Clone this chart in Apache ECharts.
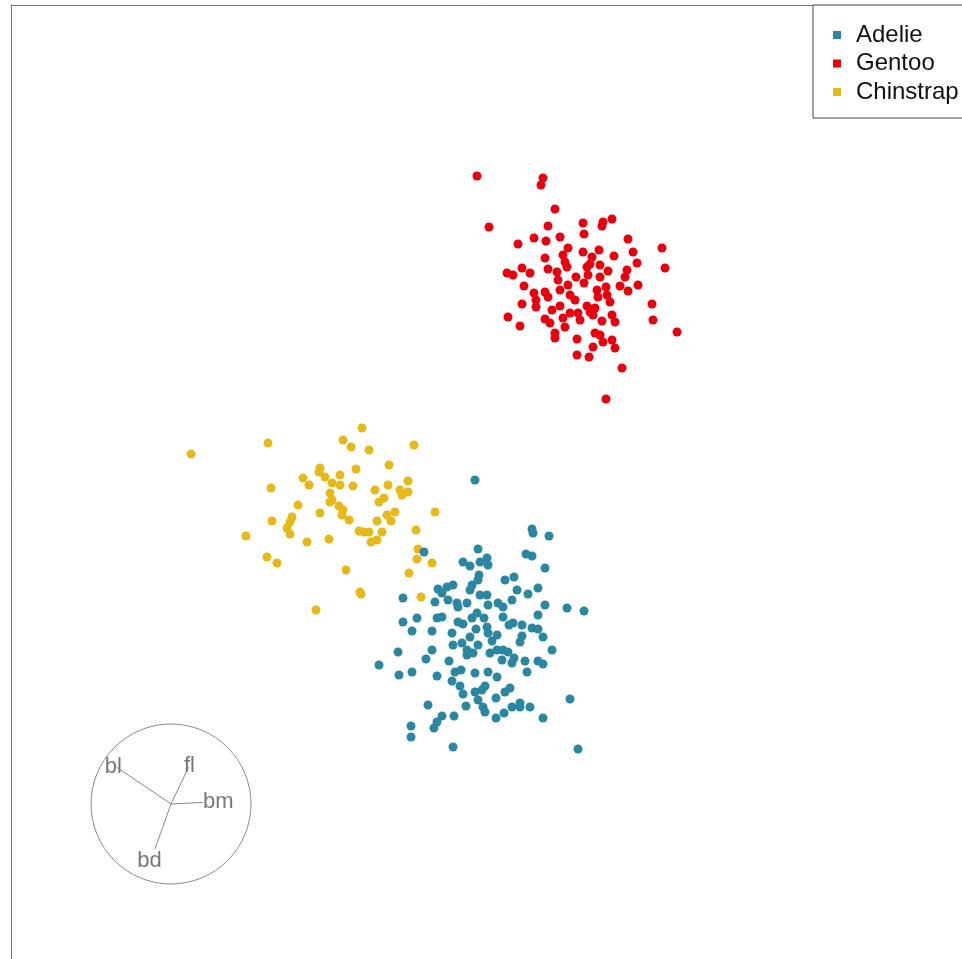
<!DOCTYPE html>
<html>
<head>
<meta charset="utf-8">
<script src="https://cdn.jsdelivr.net/npm/echarts@6/dist/echarts.min.js"></script>
<style>
  html, body { margin: 0; padding: 0; background: #fff; }
  #main { width: 962px; height: 959px; }
</style>
</head>
<body>
<div id="main"></div>
<script>
// projected positions (projection plane units, y down)
var adelie = [
  [475,480],[532,529],[533,533],[549,536],[424,552],[478,549],[526,554],[532,556],[545,568],
  [463,562],[470,566],[480,562],[487,558],[488,565],[479,575],[478,580],[505,580],[514,577],
  [472,585],[470,590],[438,589],[447,587],[453,585],[442,593],[403,598],[435,602],[457,603],
  [458,607],[467,603],[480,595],[487,595],[488,605],[498,603],[503,607],[512,600],[517,590],
  [528,594],[538,588],[545,605],[567,608],[584,611],[538,615],[503,617],[477,613],[472,618],
  [442,617],[437,618],[417,618],[403,622],[412,631],[432,631],[458,622],[463,624],[476,629],
  [487,627],[488,633],[497,635],[513,623],[522,625],[532,628],[538,629],[543,637],[522,636],
  [520,642],[452,633],[453,645],[462,643],[467,650],[473,653],[478,645],[497,650],[503,650],
  [508,652],[552,650],[398,652],[432,650],[426,659],[449,661],[467,655],[490,653],[502,660],
  [512,663],[514,658],[525,661],[538,661],[543,664],[379,665],[399,675],[412,672],[437,676],
  [455,672],[461,670],[475,673],[488,672],[497,677],[527,672],[452,681],[460,686],[475,692],
  [482,690],[485,686],[463,694],[505,692],[510,688],[496,698],[570,699],[428,705],[466,706],
  [478,700],[483,707],[485,712],[512,707],[520,703],[520,707],[530,707],[442,716],[437,722],
  [434,728],[454,716],[496,718],[504,713],[543,718],[411,726],[411,737],[453,747],[578,749],
  [484,618],[492,641],[470,637],[448,600],[509,625]
];
var gentoo = [
  [477,176],[543,178],[541,185],[555,209],[489,227],[548,226],[583,223],[603,222],[612,219],
  [602,226],[584,234],[518,244],[534,238],[546,241],[560,237],[628,239],[662,248],[665,268],
  [633,252],[637,263],[614,256],[599,250],[583,252],[592,257],[568,248],[563,255],[545,258],
  [565,262],[567,267],[507,273],[513,275],[522,268],[530,273],[548,269],[557,272],[558,280],
  [576,277],[587,267],[588,275],[600,265],[600,277],[608,271],[627,270],[625,277],[620,286],
  [628,291],[638,285],[524,286],[534,293],[536,300],[545,292],[548,297],[560,290],[568,285],
  [570,295],[597,290],[606,287],[607,295],[610,302],[598,297],[522,304],[536,307],[560,306],
  [587,306],[595,308],[570,313],[578,313],[590,312],[563,318],[580,320],[593,315],[508,317],
  [520,326],[545,319],[550,323],[565,327],[602,321],[612,315],[615,322],[652,304],[653,320],
  [677,332],[555,333],[555,338],[577,339],[595,333],[600,335],[603,342],[612,340],[615,348],
  [593,347],[577,355],[589,357],[622,368],[606,399],[575,300],[584,283],[552,310],[590,264]
];
var chinstrap = [
  [191,454],[268,443],[362,428],[343,440],[351,447],[369,450],[414,445],[389,465],[356,469],
  [320,468],[319,472],[325,477],[340,475],[303,478],[309,485],[332,483],[340,485],[353,486],
  [271,488],[375,490],[388,485],[400,490],[408,481],[408,492],[402,495],[384,498],[379,502],
  [330,493],[332,500],[330,502],[298,505],[339,506],[343,510],[342,515],[349,520],[320,513],
  [292,517],[290,522],[272,521],[287,528],[290,534],[377,521],[387,515],[395,512],[391,521],
  [435,512],[359,531],[364,532],[369,532],[382,532],[377,540],[371,542],[416,530],[329,539],
  [307,542],[246,536],[267,557],[277,563],[418,549],[417,559],[432,563],[409,573],[346,570],
  [360,592],[361,594],[421,597],[316,610]
];
var speciesNames = ['Adelie', 'Gentoo', 'Chinstrap'];
var speciesColors = ['#2b87a0', '#e8000f', '#e6b91a'];

// axis guide: projection coefficients of each variable and where its name sits
var axisNames = ['bl', 'fl', 'bm', 'bd'];
var axisVec = [[-0.68, 0.46], [0.22, 0.46], [0.40, 0.02], [-0.20, -0.56]];
var labelPos = [[-0.72, 0.46], [0.23, 0.47], [0.59, 0.02], [-0.27, -0.71]];

var chart = echarts.init(document.getElementById('main'));

var guideData = axisVec.map(function (v, i) {
    return [v[0], v[1], labelPos[i][0], labelPos[i][1]];
});

var frameLine = {show: true, onZero: false, lineStyle: {color: '#777', width: 1}};

var option = {
    backgroundColor: '#fff',
    animation: false,
    grid: [
        // frame: only its left and top edges fall on screen
        {left: 11, top: 5, right: 0, bottom: 0},
        // projection plane
        {left: 0, top: 0, width: 962, height: 959},
        // axis guide
        {left: 91, top: 724, width: 160, height: 160}
    ],
    xAxis: [
        {gridIndex: 0, type: 'value', position: 'top', min: 0, max: 1,
         axisLine: frameLine, axisTick: {show: false}, axisLabel: {show: false}, splitLine: {show: false}},
        {gridIndex: 1, type: 'value', show: false, min: 0, max: 962},
        {gridIndex: 2, type: 'value', show: false, min: -1, max: 1}
    ],
    yAxis: [
        {gridIndex: 0, type: 'value', position: 'left', min: 0, max: 1,
         axisLine: frameLine, axisTick: {show: false}, axisLabel: {show: false}, splitLine: {show: false}},
        {gridIndex: 1, type: 'value', show: false, min: 0, max: 959, inverse: true},
        {gridIndex: 2, type: 'value', show: false, min: -1, max: 1}
    ],
    legend: {
        data: speciesNames,
        orient: 'vertical',
        left: 813,
        top: 5,
        padding: [18, 20, 14, 20],
        itemGap: 4.5,
        itemWidth: 8,
        itemHeight: 8,
        icon: 'rect',
        borderColor: '#444',
        borderWidth: 1,
        backgroundColor: '#fff',
        textStyle: {
            fontFamily: 'Liberation Sans',
            fontSize: 24,
            lineHeight: 24,
            color: '#111',
            padding: [0, 0, 0, 10]
        }
    },
    series: [
        {
            name: 'Gentoo', type: 'scatter', xAxisIndex: 1, yAxisIndex: 1,
            data: gentoo, symbolSize: 9, itemStyle: {color: speciesColors[1], opacity: 1}, z: 2
        },
        {
            name: 'Chinstrap', type: 'scatter', xAxisIndex: 1, yAxisIndex: 1,
            data: chinstrap, symbolSize: 9, itemStyle: {color: speciesColors[2], opacity: 1}, z: 2
        },
        {
            name: 'Adelie', type: 'scatter', xAxisIndex: 1, yAxisIndex: 1,
            data: adelie, symbolSize: 9, itemStyle: {color: speciesColors[0], opacity: 1}, z: 3
        },
        {
            // guide circle
            type: 'custom', xAxisIndex: 2, yAxisIndex: 2, silent: true,
            data: [[0, 0]],
            renderItem: function (params, api) {
                var c = api.coord([0, 0]);
                var e = api.coord([1, 0]);
                return {
                    type: 'circle',
                    shape: {cx: c[0], cy: c[1], r: e[0] - c[0]},
                    style: {fill: 'none', stroke: '#888', lineWidth: 1}
                };
            }
        },
        {
            // guide axes + names
            type: 'custom', xAxisIndex: 2, yAxisIndex: 2, silent: true,
            data: guideData,
            renderItem: function (params, api) {
                var o = api.coord([0, 0]);
                var p = api.coord([api.value(0), api.value(1)]);
                var t = api.coord([api.value(2), api.value(3)]);
                return {
                    type: 'group',
                    children: [
                        {
                            type: 'line',
                            shape: {x1: o[0], y1: o[1], x2: p[0], y2: p[1]},
                            style: {stroke: '#888', lineWidth: 1}
                        },
                        {
                            type: 'text',
                            style: {
                                text: axisNames[params.dataIndex],
                                x: t[0], y: t[1],
                                align: 'center', verticalAlign: 'middle',
                                fill: '#777',
                                font: '22px "Liberation Sans"'
                            }
                        }
                    ]
                };
            }
        }
    ]
};
chart.setOption(option);
</script>
</body>
</html>
